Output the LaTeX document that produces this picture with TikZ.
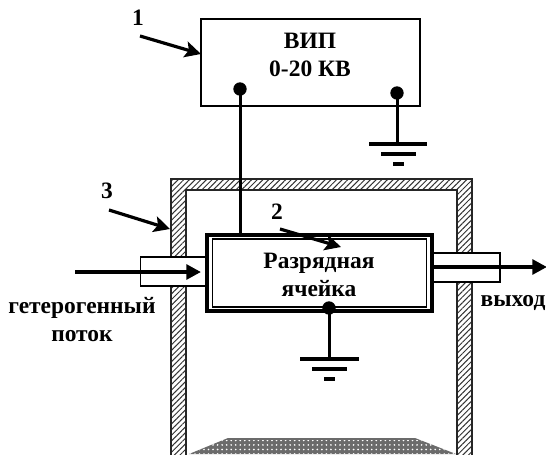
\documentclass[tikz,border=0pt]{standalone}
\usepackage{fontspec}
\setmainfont{Liberation Serif}
\usetikzlibrary{arrows.meta,patterns.meta,positioning}
\tikzset{
  lbl/.style={font=\bfseries\fontsize{17.6pt}{21pt}\selectfont,inner sep=0pt,align=center},
  num/.style={font=\bfseries\fontsize{17.6pt}{21pt}\selectfont,inner sep=0pt},
  box/.style={draw=black,line width=1pt,fill=white,inner sep=0pt,outer sep=0pt},
  wire/.style={draw=black,line width=2.25pt},
  pin/.style={circle,fill=black,inner sep=0pt,minimum size=10pt},
  bar/.style={draw=black,line width=2.8pt},
  pointer/.style={draw=black,line width=2.4pt,-{Stealth[length=12pt,width=12pt,inset=2.5pt]}},
  flow/.style={draw=black,line width=3pt,-{Stealth[length=11pt,width=11pt,inset=0pt]}},
  wallhatch/.style={pattern={Lines[angle=45,distance=3pt,line width=0.75pt]},pattern color=black!80},
}
\begin{document}
\begin{tikzpicture}[x=0.75pt,y=-0.75pt]
\useasboundingbox (0,0) rectangle (546,454);
\begin{scope}
\clip (0,0) rectangle (546,454);
% wall
\path[wallhatch,even odd rule] (171,470) -- (171,179) -- (472,179) -- (472,470) -- cycle
   (186,470) -- (186,190) -- (457,190) -- (457,470) -- cycle;
\draw[line width=0.8pt,black!85] (171,470) -- (171,179) -- (472,179) -- (472,470)
   (186,470) -- (186,190) -- (457,190) -- (457,470);
% filter
\fill[black!58] (228,438) -- (415,438) -- (456,454) -- (189,454) -- cycle;
\clip (228,438) -- (415,438) -- (456,454) -- (189,454) -- cycle;
\fill[pattern={Dots[radius=0.7pt,distance=3.4pt,angle=0]},pattern color=white] (180,440) rectangle (460,454);
\end{scope}
% boxes
\node[box,minimum width=164.25pt,minimum height=65.25pt] (vip) at (310.5,62.5) {};
\node[box,minimum width=49.5pt,minimum height=21.75pt] (pipeL) at (173.5,271.5) {};
\node[box,minimum width=51pt,minimum height=21.75pt] (pipeR) at (466,267.5) {};
\node[box,line width=2.6pt,minimum width=169pt,minimum height=57pt] (cell) at (319.5,273) {};
\node[box,line width=0.9pt,minimum width=161pt,minimum height=51pt] (cellin) at (319.5,273) {};
% text
\node[lbl] (vipt) at (310,55) {ВИП\\0-20 КВ};
\node[lbl] (cellt) at (319,275) {Разрядная\\ячейка};
\node[lbl] (in) at (82,319.5) {гетерогенный\\[-0.5pt]поток};
\node[lbl] (out) at (513,303) {выход};
\node[num] (n1) at (138,18) {1};
\node[num] (n2) at (277,212) {2};
\node[num] (n3) at (107,191) {3};
% pins
\node[pin] (pa) at (240,89) {};
\node[pin] (pb) at (397,93) {};
\node[pin] (pc) at (329,308) {};
% wires
\draw[wire] (pa.center) -- (pa.center |- cell.north);
\coordinate (gb) at (397,144);
\coordinate (gc) at (329,359);
\draw[wire] (pb.center) -- (gb);
\draw[wire] (pc.center) -- (gc);
% grounds
\draw[bar] (369,144) -- (427,144) (381,154) -- (416,154) (393,164) -- (404,164);
\draw[bar] (300,359) -- (359,359) (312,369) -- (347,369) (324,379) -- (335,379);
% pointers
\coordinate (a1s) at (140,36);
\coordinate (a1e) at (vip.west |- 0,54);
\coordinate (a3s) at (109,210);
\coordinate (a3e) at (170,229);
\coordinate (a2s) at (280,229);
\coordinate (a2e) at (341,247);
\draw[pointer] (a1s) -- (a1e);
\draw[pointer] (a3s) -- (a3e);
\draw[pointer] (a2s) -- (a2e);
% flows
\coordinate (fls) at (75,272);
\coordinate (fle) at (201,272);
\coordinate (frs) at (430,267);
\coordinate (fre) at (547,267);
\draw[flow] (fls) -- (fle);
\draw[flow] (frs) -- (fre);
\end{tikzpicture}
\end{document}
